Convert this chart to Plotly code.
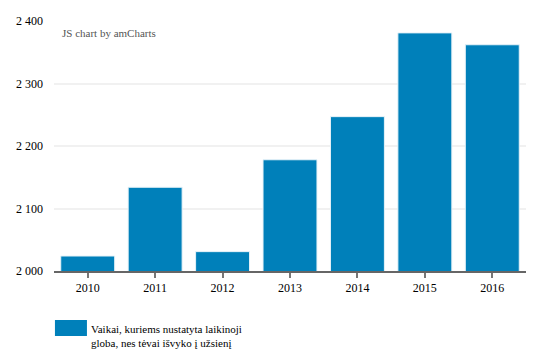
import plotly.graph_objects as go

# Children placed in temporary care because parents emigrated, by year
years = ["2010", "2011", "2012", "2013", "2014", "2015", "2016"]
children = [2024, 2134, 2031, 2178, 2247, 2381, 2362]

y_ticks = [2000, 2100, 2200, 2300, 2400]
y_tick_text = ["2 000", "2 100", "2 200", "2 300", "2 400"]

series_name = "Vaikai, kuriems nustatyta laikinoji<br>globa, nes tėvai išvyko į užsienį"

BAR_COLOR = "#0080ba"
FONT = "Times New Roman, Liberation Serif, serif"

fig = go.Figure()
fig.add_trace(go.Bar(
    x=years,
    y=children,
    name=series_name,
    marker=dict(color=BAR_COLOR, line=dict(color="#e6f2f8", width=1)),
    showlegend=False,
))

fig.update_layout(
    width=547,
    height=350,
    margin=dict(l=54, r=20.5, t=21, b=79),
    paper_bgcolor="white",
    plot_bgcolor="white",
    bargap=0.2,
    font=dict(family=FONT, size=12, color="#000000"),
    xaxis=dict(
        type="category",
        showgrid=False,
        showline=True,
        linecolor="#666666",
        linewidth=2,
        ticks="outside",
        ticklen=5,
        tickwidth=2,
        tickcolor="#777777",
        tickfont=dict(family=FONT, size=12, color="#000000"),
        fixedrange=True,
    ),
    yaxis=dict(
        range=[2000, 2400],
        tickvals=y_ticks,
        ticktext=y_tick_text,
        showgrid=True,
        gridcolor="#f1f1f1",
        gridwidth=2,
        zeroline=False,
        showline=False,
        ticks="",
        ticklabelstandoff=10,
        tickfont=dict(family=FONT, size=12, color="#000000"),
        fixedrange=True,
    ),
)

# Credit text in the top-left of the plot area
fig.add_annotation(
    xref="paper", yref="paper", x=0.012, y=0.985,
    xanchor="left", yanchor="top",
    text="JS chart by amCharts", showarrow=False,
    font=dict(family=FONT, size=11, color="#555555"),
)

# Legend swatch and label below the chart
fig.add_shape(
    type="rect", xref="paper", yref="paper",
    x0=0.002, x1=0.0698, y0=-0.26, y1=-0.196,
    fillcolor=BAR_COLOR, line=dict(width=0),
)
fig.add_annotation(
    xref="paper", yref="paper", x=0.074, y=-0.198,
    xanchor="left", yanchor="top", align="left",
    text=series_name, showarrow=False,
    font=dict(family=FONT, size=11, color="#000000"),
)

fig.write_html("out.html")
